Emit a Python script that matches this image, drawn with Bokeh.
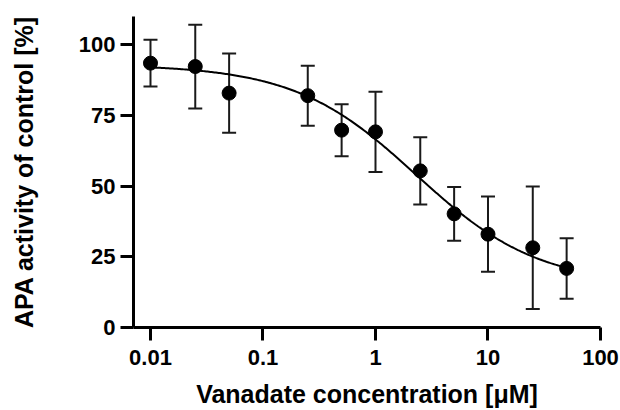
import numpy as np
from bokeh.plotting import figure
from bokeh.models import ColumnDataSource, Whisker, TeeHead, FixedTicker, Range1d
from bokeh.embed import file_html
from bokeh.resources import INLINE

# Data
conc = [0.01, 0.025, 0.05, 0.25, 0.5, 1, 2.5, 5, 10, 25, 50]
activity = [93.5, 92.3, 82.9, 82.0, 69.8, 69.2, 55.4, 40.2, 33.0, 28.2, 20.9]
err = [8.3, 14.8, 14.0, 10.6, 9.2, 14.2, 11.9, 9.5, 13.3, 21.7, 10.7]

# Four-parameter logistic fit
fit_top = 93.0
fit_bottom = 15.0
fit_ic50 = 2.3
fit_hill = 0.8

x_ticks = [0.01, 0.1, 1, 10, 100]
x_tick_labels = ["0.01", "0.1", "1", "10", "100"]
y_ticks = [0, 25, 50, 75, 100]

FONT = "Liberation Sans"

p = figure(width=620, height=410, x_axis_type="log",
           x_range=Range1d(10 ** -2.151, 100), y_range=Range1d(0, 110),
           output_backend="svg", toolbar_location=None,
           min_border_left=133, min_border_right=20, min_border_top=16, min_border_bottom=83)
p.outline_line_color = None
p.xgrid.visible = False
p.ygrid.visible = False
p.background_fill_color = "white"
p.border_fill_color = "white"

upper = [a + e for a, e in zip(activity, err)]
lower = [a - e for a, e in zip(activity, err)]
src = ColumnDataSource(dict(x=conc, y=activity, upper=upper, lower=lower))

# fitted curve
xc = np.logspace(np.log10(conc[0]), np.log10(conc[-1]), 300)
yc = fit_bottom + (fit_top - fit_bottom) / (1 + (xc / fit_ic50) ** fit_hill)
p.line(xc, yc, line_color="black", line_width=2)

wh = Whisker(source=src, base="x", upper="upper", lower="lower",
             line_color="#1a1a1a", line_width=2,
             upper_head=TeeHead(size=14, line_width=2, line_color="#1a1a1a"),
             lower_head=TeeHead(size=14, line_width=2, line_color="#1a1a1a"))
p.add_layout(wh)

p.scatter("x", "y", source=src, size=14, fill_color="black", line_color="black")

for ax in (p.xaxis[0], p.yaxis[0]):
    ax.axis_line_width = 3
    ax.axis_line_color = "black"
    ax.major_tick_line_width = 3
    ax.major_tick_line_color = "black"
    ax.major_tick_out = 13
    ax.major_tick_in = 0
    ax.minor_tick_line_color = None
    ax.major_label_text_font = FONT
    ax.major_label_text_font_style = "bold"
    ax.major_label_text_font_size = "22px"
    ax.major_label_text_color = "black"
    ax.axis_label_text_font = FONT
    ax.axis_label_text_font_style = "bold"
    ax.axis_label_text_color = "black"
    ax.axis_label_text_font_size = "25px"

p.xaxis.ticker = FixedTicker(ticks=x_ticks)
p.xaxis.major_label_overrides = {t: l for t, l in zip(x_ticks, x_tick_labels)}
p.xaxis.axis_label = "Vanadate concentration [μM]"
p.xaxis.major_label_standoff = 9
p.xaxis.axis_label_standoff = 12

p.yaxis.ticker = FixedTicker(ticks=y_ticks)
p.yaxis.axis_label = "APA activity of control [%]"
p.yaxis.major_label_standoff = 5
p.yaxis.axis_label_standoff = 38

open("out.html", "w").write(file_html(p, INLINE))
